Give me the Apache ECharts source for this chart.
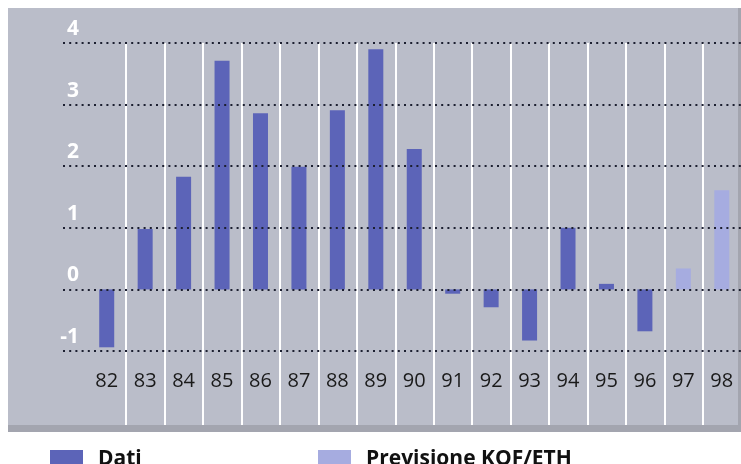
<!DOCTYPE html>
<html>
<head>
<meta charset="utf-8">
<script src="https://cdn.jsdelivr.net/npm/echarts@6/dist/echarts.min.js"></script>
<style>
html,body{margin:0;padding:0;background:#fff;}
#c{width:741px;height:464px;}
</style>
</head>
<body>
<div id="c"></div>
<script>
const categories = ['82','83','84','85','86','87','88','89','90','91','92','93','94','95','96','97','98'];
const dati = [-0.94, 0.98, 1.83, 3.71, 2.86, 1.99, 2.91, 3.90, 2.28, -0.07, -0.29, -0.83, 1.00, 0.09, -0.68, null, null];
const previsione = [null, null, null, null, null, null, null, null, null, null, null, null, null, null, null, 0.34, 1.61];
const yMin = -1, yMax = 4, yStep = 1;

const chart = echarts.init(document.getElementById('c'), null, {renderer: 'canvas'});
const font = '"Open Sans", "Noto Sans", sans-serif';
const legendText = {fontFamily: font, fontWeight: 'bold', fontSize: 21, lineHeight: 22,
                    color: '#111', padding: [0, 0, 0, 10]};

chart.setOption({
  animation: false,
  backgroundColor: '#ffffff',
  graphic: {
    elements: [
      {type: 'rect', z: -10, shape: {x: 8, y: 8, width: 733, height: 424}, style: {fill: '#a3a5af'}},
      {type: 'rect', z: -9, shape: {x: 8, y: 8, width: 730, height: 417}, style: {fill: '#babdc9'}}
    ]
  },
  legend: [
    {data: ['Dati'], left: 50, top: 448, padding: 0, itemWidth: 33, itemHeight: 18, itemGap: 15,
     icon: 'rect', selectedMode: false, textStyle: legendText},
    {data: ['Previsione KOF/ETH'], left: 318, top: 448, padding: 0, itemWidth: 33, itemHeight: 18, itemGap: 15,
     icon: 'rect', selectedMode: false, textStyle: legendText}
  ],
  grid: [
    {left: 87.5, width: 654, top: 43, height: 308},
    {left: 126, width: 577, top: 43, height: 382},
    {left: 63, width: 678, top: 43, height: 308}
  ],
  xAxis: [
    {type: 'category', gridIndex: 0, data: categories, boundaryGap: true,
     axisLine: {show: false}, axisTick: {show: false}, splitLine: {show: false},
     axisLabel: {margin: 20, fontFamily: font, fontSize: 20, color: '#1a1a1a'}},
    {type: 'value', gridIndex: 1, min: 1, max: 16, interval: 1,
     axisLine: {show: false}, axisTick: {show: false}, axisLabel: {show: false},
     splitLine: {show: true, lineStyle: {color: '#ffffff', width: 2}}},
    {type: 'value', gridIndex: 2, min: 0, max: 1, show: false}
  ],
  yAxis: [
    {type: 'value', gridIndex: 0, min: yMin, max: yMax, interval: yStep, show: false},
    {type: 'value', gridIndex: 1, min: 0, max: 1, show: false},
    {type: 'value', gridIndex: 2, min: yMin, max: yMax, interval: yStep, z: 5,
     axisLine: {show: false}, axisTick: {show: false},
     axisLabel: {margin: -16, align: 'right', verticalAlign: 'bottom', lineHeight: 20,
       padding: [0, 0, 4, 0],
       fontFamily: font, fontWeight: 'bold', fontSize: 21, color: '#ffffff'},
     splitLine: {show: true, lineStyle: {color: '#1c1f30', width: 2, type: [2, 4.2]}}}
  ],
  series: [
    {name: 'Dati', type: 'bar', xAxisIndex: 0, yAxisIndex: 0, stack: 'v', barWidth: 15,
     data: dati, itemStyle: {color: '#5c64b8'}},
    {name: 'Previsione KOF/ETH', type: 'bar', xAxisIndex: 0, yAxisIndex: 0, stack: 'v', barWidth: 15,
     data: previsione, itemStyle: {color: '#a6ace0'}}
  ]
});
</script>
</body>
</html>
